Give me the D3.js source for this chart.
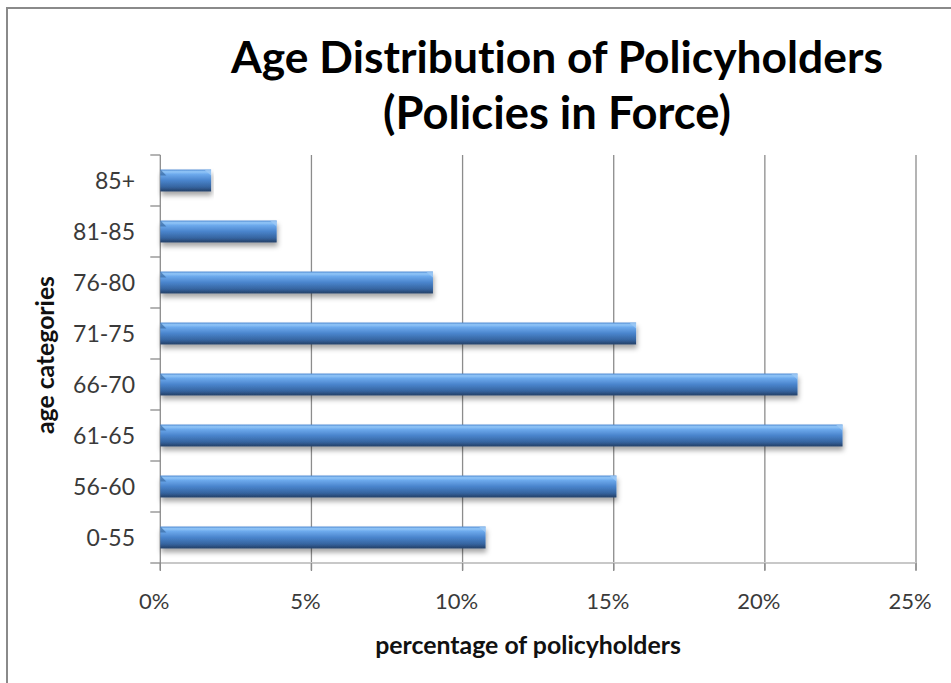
<!DOCTYPE html>
<html>
<head>
<meta charset="utf-8">
<script src="https://cdn.jsdelivr.net/npm/d3@7"></script>
<style>
  body { margin: 0; background: #fff; }
  text { font-family: Lato, "Open Sans", sans-serif; font-variant-ligatures: none; }
</style>
</head>
<body>
<svg id="chart" width="951" height="683"></svg>
<script>
var categories = ["0-55", "56-60", "61-65", "66-70", "71-75", "76-80", "81-85", "85+"];
var shares = [10.76, 15.09, 22.57, 21.08, 15.74, 9.02, 3.85, 1.68];
var tickValues = [0, 5, 10, 15, 20, 25];

var svg = d3.select("#chart");

// plot box
var plotLeft = 160.3, plotRight = 916, plotTop = 155, plotBottom = 563;

var x = d3.scaleLinear().domain([0, 25]).range([plotLeft, plotRight]);
var y = d3.scaleBand().domain(categories).range([plotBottom, plotTop])
  .paddingInner(0.57).paddingOuter(0.285);

var defs = svg.append("defs");
var grad = defs.append("linearGradient")
  .attr("id", "barGrad").attr("x1", 0).attr("y1", 0).attr("x2", 0).attr("y2", 1);
[[0, "#4f8ad2"], [0.1, "#92c6f8"], [0.22, "#6ca9ec"], [0.5, "#4a84cc"], [0.8, "#35649f"], [1, "#253f66"]]
  .forEach(function (s) { grad.append("stop").attr("offset", s[0]).attr("stop-color", s[1]); });

var shadow = defs.append("filter").attr("id", "shadow")
  .attr("x", "-5%").attr("y", "-30%").attr("width", "110%").attr("height", "180%");
shadow.append("feDropShadow").attr("dx", 1).attr("dy", 4).attr("stdDeviation", 2.5)
  .attr("flood-color", "#000").attr("flood-opacity", 0.35);

// outer frame
svg.append("rect").attr("x", 7).attr("y", 8).attr("width", 1000).attr("height", 800)
  .attr("fill", "none").attr("stroke", "#8a8a8a").attr("stroke-width", 2);

// gridlines
svg.append("g").selectAll("line").data(tickValues.slice(1)).enter().append("line")
  .attr("x1", function (d) { return x(d); }).attr("x2", function (d) { return x(d); })
  .attr("y1", plotTop).attr("y2", plotBottom + 7)
  .attr("stroke", "#8c8c8c").attr("stroke-width", 1.3);

// bottom axis line + ticks
svg.append("line").attr("x1", plotLeft).attr("x2", plotRight).attr("y1", plotBottom).attr("y2", plotBottom)
  .attr("stroke", "#c8c8c8").attr("stroke-width", 2);
svg.append("g").selectAll("line").data(tickValues).enter().append("line")
  .attr("x1", function (d) { return x(d); }).attr("x2", function (d) { return x(d); })
  .attr("y1", plotBottom).attr("y2", plotBottom + 8)
  .attr("stroke", "#8c8c8c").attr("stroke-width", 1.3);

// left axis line + ticks at band boundaries
svg.append("line").attr("x1", plotLeft).attr("x2", plotLeft).attr("y1", plotTop).attr("y2", plotBottom + 7)
  .attr("stroke", "#8c8c8c").attr("stroke-width", 1.3);
var bounds = d3.range(categories.length + 1).map(function (i) { return plotBottom - i * y.step(); });
svg.append("g").selectAll("line").data(bounds).enter().append("line")
  .attr("x1", plotLeft - 10).attr("x2", plotLeft).attr("y1", function (d) { return d; }).attr("y2", function (d) { return d; })
  .attr("stroke", "#8c8c8c").attr("stroke-width", 1.3);

// bars
var bars = svg.append("g").selectAll("g").data(categories).enter().append("g")
  .attr("filter", "url(#shadow)");
bars.append("rect")
  .attr("x", x(0))
  .attr("y", function (d) { return y(d); })
  .attr("width", function (d, i) { return x(shares[i]) - x(0); })
  .attr("height", y.bandwidth())
  .attr("fill", "url(#barGrad)");
// bevel at bar end
bars.append("path")
  .attr("d", function (d, i) {
    var xe = x(shares[i]), yt = y(d);
    return "M" + (xe - 7) + "," + yt + "L" + xe + "," + yt + "L" + xe + "," + (yt + 6) + "Z";
  })
  .attr("fill", "#9cc8f5").attr("opacity", 0.8);
bars.append("path")
  .attr("d", function (d) {
    var yt = y(d);
    return "M" + x(0) + "," + yt + "L" + (x(0) + 6) + "," + (yt + 6) + "L" + x(0) + "," + (yt + 6) + "Z";
  })
  .attr("fill", "#2f5d96").attr("opacity", 0.6);

// category labels
svg.append("g").selectAll("text").data(categories).enter().append("text")
  .attr("x", 135)
  .attr("y", function (d) { return y(d) + y.bandwidth() / 2; })
  .attr("dy", "0.36em")
  .attr("text-anchor", "end")
  .attr("font-size", 23).attr("fill", "#3a3a3a")
  .text(function (d) { return d; });

// tick labels
svg.append("g").selectAll("text").data(tickValues).enter().append("text")
  .attr("x", function (d) { return x(d) - 6; })
  .attr("y", 609)
  .attr("text-anchor", "middle")
  .attr("font-size", 22).attr("fill", "#3a3a3a")
  .text(function (d) { return d + "%"; });

// titles
function fit(sel, w) {
  var len = sel.node().getComputedTextLength();
  var fs = parseFloat(sel.attr("font-size"));
  sel.attr("font-size", fs * w / len);
}
fit(svg.append("text").attr("x", 557).attr("y", 73).attr("text-anchor", "middle")
  .attr("font-size", 38).attr("font-weight", "bold").attr("fill", "#000")
  .text("Age Distribution of Policyholders"), 652);
fit(svg.append("text").attr("x", 557).attr("y", 129).attr("text-anchor", "middle")
  .attr("font-size", 38).attr("font-weight", "bold").attr("fill", "#000")
  .text("(Policies in Force)"), 348);
fit(svg.append("text").attr("x", 528).attr("y", 654).attr("text-anchor", "middle")
  .attr("font-size", 20).attr("font-weight", "bold").attr("fill", "#111")
  .text("percentage of policyholders"), 306);
fit(svg.append("text").attr("transform", "translate(54,355) rotate(-90)").attr("text-anchor", "middle")
  .attr("font-size", 20).attr("font-weight", "bold").attr("fill", "#111")
  .text("age categories"), 158);
</script>
</body>
</html>
